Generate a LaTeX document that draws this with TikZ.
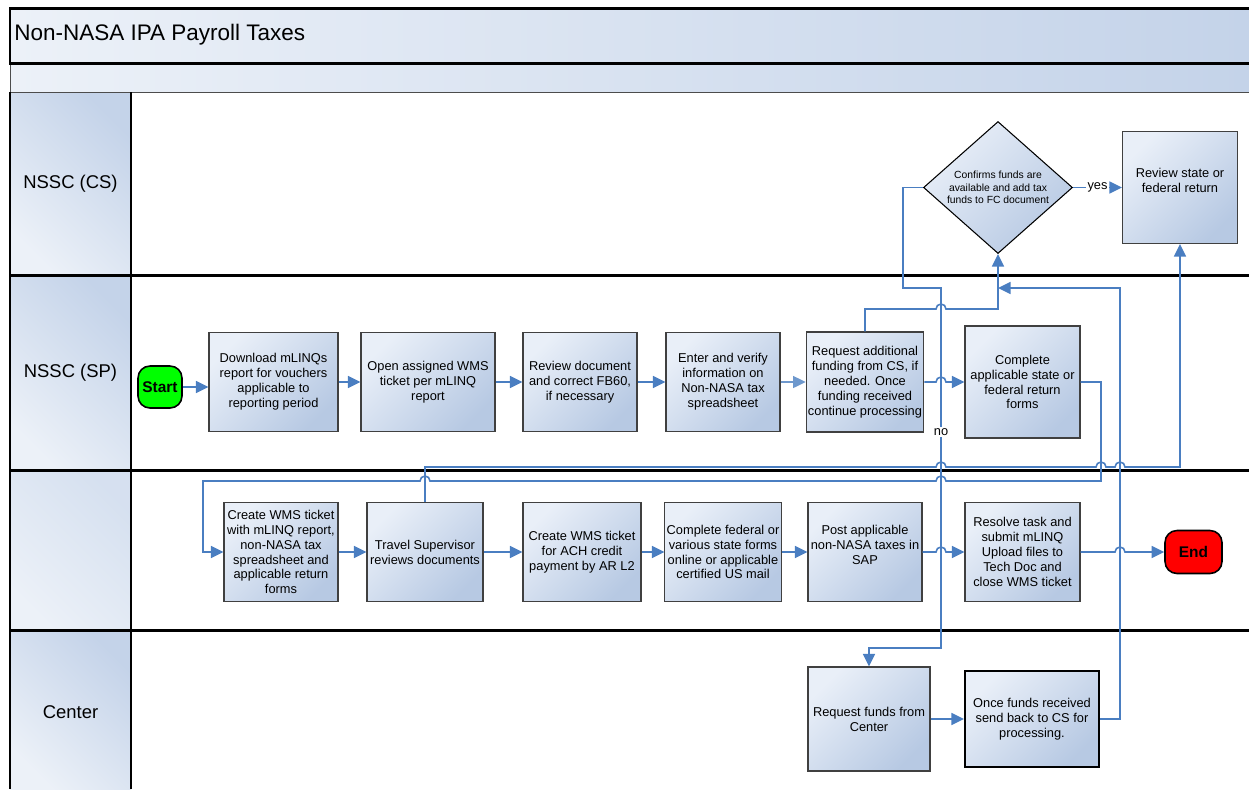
\documentclass[tikz,border=0pt]{standalone}
\usepackage{fontspec}
\setmainfont{Liberation Sans}
\usetikzlibrary{shapes.geometric,arrows.meta}

\definecolor{flowblue}{RGB}{74,126,193}
\definecolor{boxlight}{RGB}{233,239,248}
\definecolor{boxdark}{RGB}{183,201,227}
\definecolor{barlight}{RGB}{236,241,248}
\definecolor{bardark}{RGB}{196,211,233}

\newcommand{\hopr}[2]{-- (#1-5,#2) arc[start angle=180,end angle=0,radius=0.1cm]}
\newcommand{\hopl}[2]{-- (#1+5,#2) arc[start angle=0,end angle=180,radius=0.1cm]}

\begin{document}
\begin{tikzpicture}[x=0.02cm,y=-0.02cm,
task/.style={draw=black!75,line width=0.6pt,top color=boxlight,bottom color=boxdark,shading angle=45,align=center,inner sep=1pt,font=\fontsize{7.3}{8.5}\selectfont},
term/.style={draw=black,line width=0.9pt,rounded corners=0.24cm,inner sep=0pt,minimum width=0.88cm,minimum height=0.84cm,font=\bfseries\fontsize{8.8}{10}\selectfont},
flow/.style={draw=flowblue,line width=0.9pt,-{Triangle[length=2.5mm,width=2.4mm]}},
lane/.style={line width=1.7pt},
head/.style={font=\fontsize{10.5}{12}\selectfont},
tag/.style={fill=white,inner sep=1pt,font=\fontsize{7.3}{8.5}\selectfont}]
\useasboundingbox (0,0) rectangle (1249,789);
\shade[left color=barlight,right color=bardark] (10,8) rectangle (1249,63);
\shade[left color=barlight,right color=bardark] (10,63) rectangle (1249,92);
\shade[top color=bardark,bottom color=barlight,shading angle=-45] (10,92) rectangle (131,275);
\shade[top color=bardark,bottom color=barlight,shading angle=-45] (10,275) rectangle (131,470);
\shade[top color=bardark!70,bottom color=barlight,shading angle=-45] (10,470) rectangle (131,630);
\shade[top color=bardark,bottom color=barlight,shading angle=-45] (10,630) rectangle (131,789);
\draw[black!70,line width=0.5pt] (10,63) -- (10,92) -- (1249,92);
\draw[lane] (1249,8) -- (10,8) -- (10,63) -- (1249,63);
\draw[lane] (10,92) -- (10,789);
\draw[lane] (131,92) -- (131,789);
\draw[lane] (10,275) -- (1249,275);
\draw[lane] (10,470) -- (1249,470);
\draw[lane] (10,630) -- (1249,630);
\node[anchor=west,inner sep=0pt,font=\fontsize{12.8}{14}\selectfont] (title) at (14,35) {Non-NASA IPA Payroll Taxes};
\node[head] (cs) at (70.5,184) {NSSC (CS)};
\node[head] (sp) at (70.5,373) {NSSC (SP)};
\node[head] (ctr) at (70.5,712) {Center};

\node[term,fill=green] (start) at (160,387) {Start};
\node[task,minimum width=2.58cm,minimum height=1.98cm] (dl) at (273.5,382) {Download mLINQs\\report for vouchers\\applicable to\\reporting period};
\node[task,minimum width=2.68cm,minimum height=1.98cm] (open) at (428,382) {Open assigned WMS\\ticket per mLINQ\\report};
\node[task,minimum width=2.28cm,minimum height=1.98cm] (rev) at (580,382) {Review document\\and correct FB60,\\if necessary};
\node[task,minimum width=2.28cm,minimum height=1.98cm] (enter) at (723,382) {Enter and verify\\information on\\Non-NASA tax\\spreadsheet};
\node[task,minimum width=2.28cm,minimum height=2cm] (req) at (865,382) {Request additional\\funding from CS, if\\needed. Once\\funding received\\continue processing};
\node[task,minimum width=2.3cm,minimum height=2.24cm] (compl) at (1022.5,382) {Complete\\applicable state or\\federal return\\forms};
\node[task,draw=black,diamond,aspect=1.13,inner sep=0pt,minimum width=2.98cm,minimum height=2.64cm,font=\fontsize{5.9}{7}\selectfont] (dia) at (998,187.5) {Confirms funds are\\available and add tax\\funds to FC document};
\node[task,minimum width=2.3cm,minimum height=2.24cm] (rev2) at (1180,187.5) {Review state or\\federal return\\~};

\node[task,minimum width=2.28cm,minimum height=1.98cm] (cwms) at (281,552) {Create WMS ticket\\with mLINQ report,\\non-NASA tax\\spreadsheet and\\applicable return\\forms};
\node[task,minimum width=2.32cm,minimum height=1.98cm] (trav) at (425,552) {Travel Supervisor\\reviews documents};
\node[task,minimum width=2.36cm,minimum height=1.98cm] (ach) at (582,552) {Create WMS ticket\\for ACH credit\\payment by AR L2};
\node[task,minimum width=2.28cm,minimum height=1.98cm] (cfed) at (723,552) {Complete federal or\\various state forms\\online or applicable\\certified US mail};
\node[task,minimum width=2.28cm,minimum height=1.98cm] (post) at (865,552) {Post applicable\\non-NASA taxes in\\SAP\\~};
\node[task,minimum width=2.3cm,minimum height=1.98cm] (res) at (1022.5,552) {Resolve task and\\submit mLINQ\\Upload files to\\Tech Doc and\\close WMS ticket};
\node[term,fill=red,minimum width=1.14cm,minimum height=0.86cm] (end) at (1193.5,552) {End};

\node[task,minimum width=2.44cm,minimum height=2.08cm] (reqc) at (869,719) {Request funds from\\Center};
\node[task,draw=black,line width=1.2pt,minimum width=2.68cm,minimum height=1.92cm] (once) at (1032,719) {Once funds received\\send back to CS for\\processing.};

\coordinate (up1) at (998,309);
\coordinate (no1) at (903,288);
\coordinate (no2) at (941,648);
\coordinate (c1) at (1101,481);
\coordinate (c2) at (203,481);
\coordinate (t2) at (1180,467);
\coordinate (f1) at (1120,288);

\draw[flow] (start.east) -- (start.east -| dl.west);
\draw[flow] (dl) -- (open);
\draw[flow] (open) -- (rev);
\draw[flow] (rev) -- (enter);
\draw[flow,line width=0.6pt,draw=flowblue!80] (enter) -- (req);
\draw[flow] (req.east) \hopr{941}{382} -- (compl.west);
\draw[flow] (req.north) -- (req.north |- up1) \hopr{941}{309} -- (up1) -- (dia.south);
\draw[flow] (dia.west) -| (no1) -| (no2) node[tag,pos=0.7] {no} -| (reqc.north);
\draw[flow] (dia.east) -- node[tag] {yes} (rev2.west);
\draw[flow] (compl.east) -| (c1) \hopl{941}{481} \hopl{425}{481} -- (c2) |- (cwms.west);
\draw[flow] (trav.north) -- (trav.north |- t2) \hopr{941}{467} \hopr{1101}{467} \hopr{1120}{467} -- (t2) -- (rev2.south);
\draw[flow] (once.east) -| (f1) -- (f1 -| up1);
\draw[flow] (cwms) -- (trav);
\draw[flow] (trav) -- (ach);
\draw[flow] (ach) -- (cfed);
\draw[flow] (cfed) -- (post);
\draw[flow] (post.east) \hopr{941}{552} -- (res.west);
\draw[flow] (res.east) \hopr{1120}{552} -- (end.west);
\draw[flow] (reqc) -- (once);
\end{tikzpicture}
\end{document}
